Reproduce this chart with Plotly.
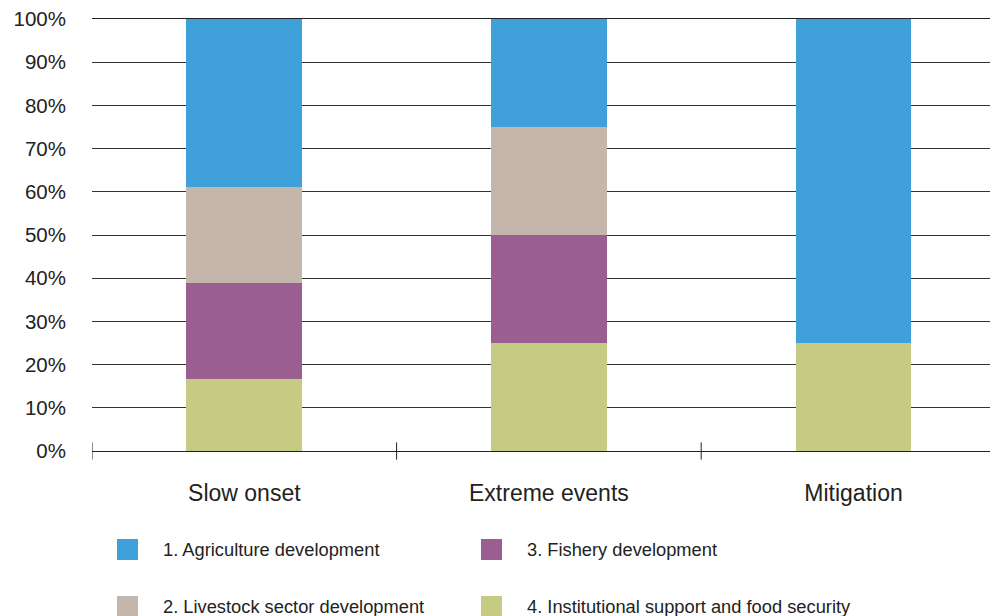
import plotly.graph_objects as go

# data (share of actions per category, %)
categories = ['Slow onset', 'Extreme events', 'Mitigation']
institutional = [16.7, 25, 25]
fishery = [22.2, 25, 0]
livestock = [22.2, 25, 0]
agriculture = [38.9, 25, 75]
y_ticks = list(range(0, 101, 10))
y_ticktext = [f'{v}%' for v in y_ticks]

colors = {
    '1. Agriculture development': '#40A1DA',
    '2. Livestock sector development': '#C5B6AC',
    '3. Fishery development': '#9B5E90',
    '4. Institutional support and food security': '#C5CB83',
}

# page body has an 8px margin, so the figure is drawn 8px in from the corner
OFF = 8
W, H = 998 - OFF, 616 - OFF
L, R, T, B = 92 - OFF, 0, 19 - OFF, 616 - 451
PW, PH = W - L - R, H - T - B


def px(x):
    # window pixel -> paper x
    return (x - OFF - L) / PW


def py(y):
    # window pixel -> paper y
    return (H - B - (y - OFF)) / PH


fig = go.Figure()

# stacked from bottom to top
stack = [
    ('4. Institutional support and food security', institutional),
    ('3. Fishery development', fishery),
    ('2. Livestock sector development', livestock),
    ('1. Agriculture development', agriculture),
]
for name, vals in stack:
    fig.add_trace(go.Bar(
        x=categories, y=vals, name=name,
        marker=dict(color=colors[name], line=dict(width=0)),
        width=0.38, showlegend=False,
        hovertemplate='%{x}: %{y}%<extra>' + name + '</extra>',
    ))

# category width ~304.6px -> the plot runs off the right edge
cat_px = 304.6
fig.update_layout(
    barmode='stack',
    width=W, height=H,
    margin=dict(l=L, r=R, t=T, b=B),
    plot_bgcolor='white', paper_bgcolor='white',
    font=dict(family='Liberation Sans, Arial, sans-serif', color='#222222'),
    xaxis=dict(
        type='category',
        range=[-0.5, -0.5 + PW / cat_px],
        showgrid=False, ticks='', showline=True, linecolor='#222222', linewidth=1,
        mirror=True,
        tickfont=dict(size=23), ticklabelstandoff=21,
        fixedrange=True,
    ),
    yaxis=dict(
        range=[0, 100], tickmode='array', tickvals=y_ticks, ticktext=y_ticktext,
        showgrid=True, gridcolor='#333333', gridwidth=1,
        zeroline=False, ticks='', tickfont=dict(size=20.5), ticklabelstandoff=25,
        ticklabeloverflow='allow',
        fixedrange=True,
    ),
)

# tick marks crossing the axis at category boundaries
for i in range(len(categories)):
    fig.add_shape(type='line', xref='x', yref='paper',
                  x0=i - 0.5, x1=i - 0.5, y0=-0.02, y1=0.02,
                  line=dict(color='#222222', width=1))

# custom legend: two columns, two rows
legend_pos = [
    ('1. Agriculture development', 117, 549.5),
    ('3. Fishery development', 481, 549.5),
    ('2. Livestock sector development', 117, 606.5),
    ('4. Institutional support and food security', 481, 606.5),
]
for name, x0, yc in legend_pos:
    fig.add_shape(type='rect', xref='paper', yref='paper',
                  x0=px(x0), x1=px(x0 + 21), y0=py(yc + 10.5), y1=py(yc - 10.5),
                  fillcolor=colors[name], line=dict(width=0))
    fig.add_annotation(xref='paper', yref='paper', x=px(x0 + 44), y=py(yc),
                       text=name, showarrow=False, xanchor='left', yanchor='middle',
                       font=dict(size=18.3, color='#222222'))

fig.write_html('out.html')
